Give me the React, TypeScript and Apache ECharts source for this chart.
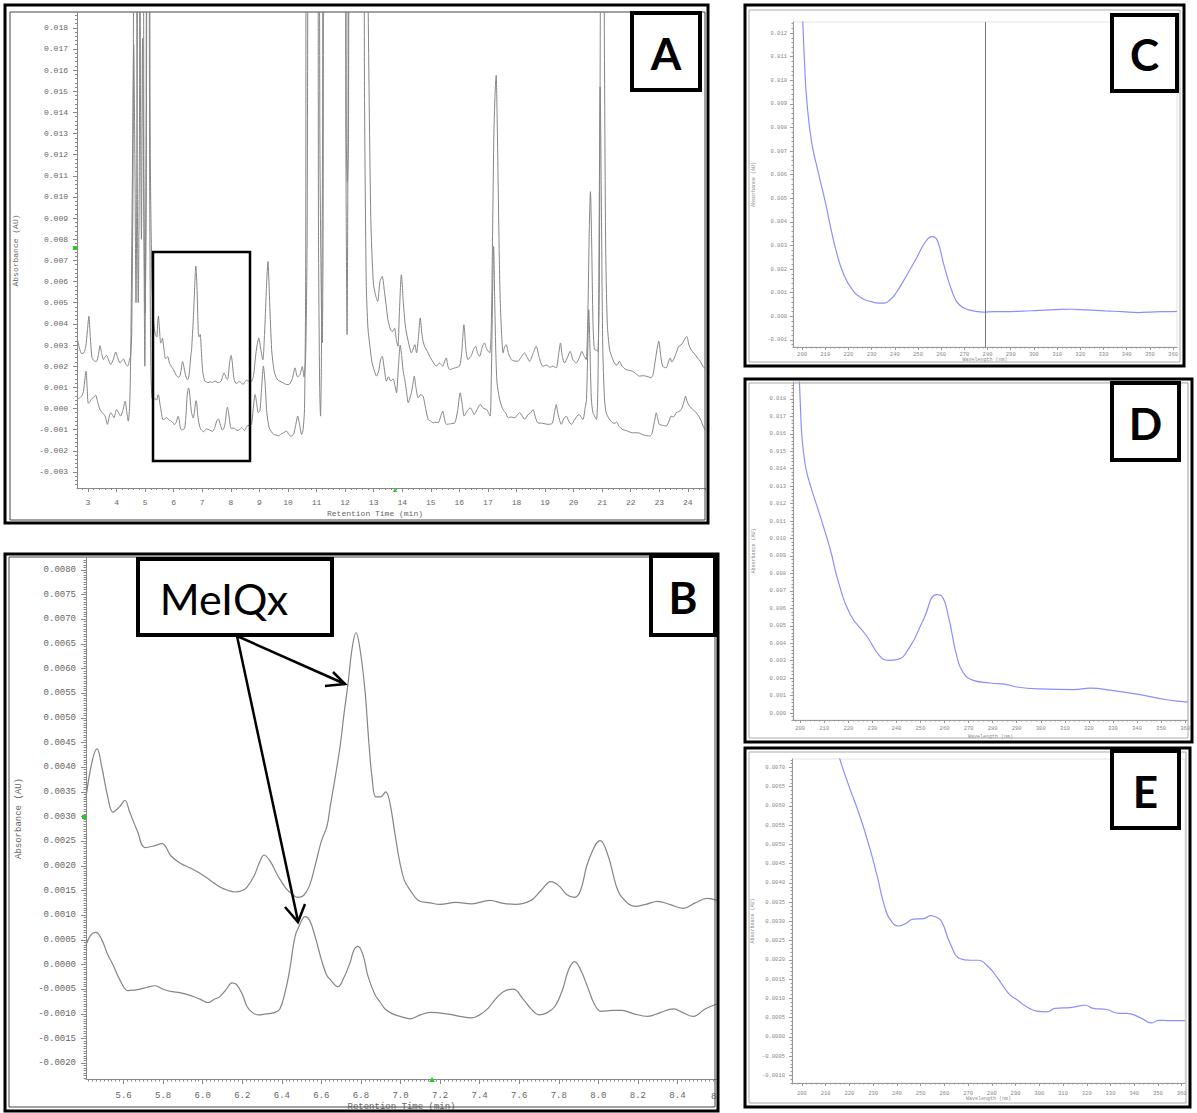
import React, { useEffect, useRef } from "react";
import * as echarts from "echarts";

type P = [number, number];

// ---------- tick labels ----------
const aXTickLabels = [3, 4, 5, 6, 7, 8, 9, 10, 11, 12, 13, 14, 15, 16, 17, 18, 19, 20, 21, 22, 23, 24];
const aYTickLabels = [-0.003, -0.002, -0.001, 0, 0.001, 0.002, 0.003, 0.004, 0.005, 0.006, 0.007, 0.008, 0.009, 0.01, 0.011, 0.012, 0.013, 0.014, 0.015, 0.016, 0.017, 0.018];
const bXTickLabels = [5.6, 5.8, 6.0, 6.2, 6.4, 6.6, 6.8, 7.0, 7.2, 7.4, 7.6, 7.8, 8.0, 8.2, 8.4];
const bYTickLabels = [-0.002, -0.0015, -0.001, -0.0005, 0, 0.0005, 0.001, 0.0015, 0.002, 0.0025, 0.003, 0.0035, 0.004, 0.0045, 0.005, 0.0055, 0.006, 0.0065, 0.007, 0.0075, 0.008];
const wlTickLabels = [200, 210, 220, 230, 240, 250, 260, 270, 280, 290, 300, 310, 320, 330, 340, 350, 360];
const cYTickLabels = [-0.001, 0, 0.001, 0.002, 0.003, 0.004, 0.005, 0.006, 0.007, 0.008, 0.009, 0.01, 0.011, 0.012];
const dYTickLabels = [0, 0.001, 0.002, 0.003, 0.004, 0.005, 0.006, 0.007, 0.008, 0.009, 0.01, 0.011, 0.012, 0.013, 0.014, 0.015, 0.016, 0.017, 0.018];
const eYTickLabels = [-0.001, -0.0005, 0, 0.0005, 0.001, 0.0015, 0.002, 0.0025, 0.003, 0.0035, 0.004, 0.0045, 0.005, 0.0055, 0.006, 0.0065, 0.007];

// ---------- Panel B (zoom 5.4 - 8.6 min) ----------
const bUpper: P[] = [
  [5.41, 0.00338], [5.44, 0.0041], [5.466, 0.00437], [5.49, 0.004], [5.52, 0.0034], [5.546, 0.00309],
  [5.58, 0.0032], [5.607, 0.00333], [5.63, 0.0031], [5.67, 0.0027], [5.708, 0.00237], [5.75, 0.0024],
  [5.794, 0.00245], [5.84, 0.0022], [5.885, 0.00206], [5.94, 0.00195], [5.986, 0.00185], [6.04, 0.0017],
  [6.087, 0.00157], [6.13, 0.0015], [6.163, 0.00147], [6.2, 0.0015], [6.224, 0.00157], [6.26, 0.0018],
  [6.29, 0.0021], [6.31, 0.00222], [6.34, 0.0021], [6.38, 0.0018], [6.42, 0.00155], [6.46, 0.0014],
  [6.48, 0.00136], [6.51, 0.0014], [6.54, 0.0016], [6.568, 0.002], [6.6, 0.0025], [6.628, 0.0028],
  [6.644, 0.00319], [6.67, 0.0038], [6.694, 0.00441], [6.715, 0.0051], [6.735, 0.00571], [6.755, 0.0064],
  [6.775, 0.00673], [6.795, 0.0064], [6.82, 0.00557], [6.84, 0.0045], [6.856, 0.0038], [6.875, 0.0034],
  [6.9, 0.0034], [6.925, 0.0035], [6.945, 0.0033], [6.97, 0.0027], [6.995, 0.0021], [7.02, 0.0017],
  [7.05, 0.0015], [7.09, 0.0013], [7.15, 0.00125], [7.2, 0.00122], [7.28, 0.00126], [7.36, 0.00123],
  [7.45, 0.0013], [7.52, 0.00124], [7.58, 0.00122], [7.66, 0.0013], [7.71, 0.0015], [7.76, 0.00168],
  [7.8, 0.0016], [7.84, 0.00142], [7.88, 0.00136], [7.91, 0.0015], [7.95, 0.0021], [8.01, 0.00251],
  [8.05, 0.0022], [8.09, 0.0016], [8.12, 0.00136], [8.185, 0.00118], [8.24, 0.00122], [8.3, 0.00128],
  [8.36, 0.00122], [8.43, 0.00114], [8.49, 0.00125], [8.55, 0.00134], [8.6, 0.0013],
];
const bLower: P[] = [
  [5.41, 0.0004], [5.435, 0.0006], [5.46, 0.00065], [5.49, 0.0005], [5.52, 0.0002], [5.546, 0.0],
  [5.58, -0.0003], [5.622, -0.00053], [5.65, -0.00052], [5.683, -0.0005], [5.72, -0.00046], [5.759, -0.00043],
  [5.8, -0.0005], [5.845, -0.00055], [5.885, -0.00057], [5.94, -0.00063], [5.986, -0.0007], [6.027, -0.00077],
  [6.06, -0.0007], [6.087, -0.00065], [6.12, -0.0005], [6.148, -0.00037], [6.17, -0.0004], [6.2, -0.0006],
  [6.224, -0.00085], [6.25, -0.00097], [6.28, -0.00102], [6.32, -0.001], [6.366, -0.00097], [6.39, -0.0009],
  [6.416, -0.00057], [6.44, -0.0001], [6.467, 0.00057], [6.49, 0.0008], [6.517, 0.00097], [6.54, 0.0009],
  [6.568, 0.00057], [6.6, 0.0001], [6.625, -0.0002], [6.644, -0.0003], [6.684, -0.00045], [6.71, -0.0003],
  [6.745, 0.00004], [6.765, 0.0003], [6.785, 0.00037], [6.81, 0.0002], [6.836, -0.00024], [6.87, -0.0006],
  [6.9, -0.00078], [6.922, -0.0009], [6.96, -0.001], [6.998, -0.00105], [7.05, -0.0011], [7.1, -0.00102],
  [7.15, -0.00097], [7.235, -0.001], [7.3, -0.00105], [7.36, -0.00108], [7.4, -0.00102], [7.44, -0.0009],
  [7.48, -0.0007], [7.52, -0.00055], [7.57, -0.0005], [7.62, -0.0007], [7.66, -0.0009], [7.7, -0.00102],
  [7.74, -0.00098], [7.78, -0.00085], [7.82, -0.0005], [7.85, -0.0001], [7.88, 0.00006], [7.91, -0.0001],
  [7.95, -0.0005], [7.98, -0.0008], [8.015, -0.00095], [8.07, -0.00093], [8.12, -0.00093], [8.18, -0.001],
  [8.25, -0.00105], [8.31, -0.00098], [8.38, -0.0009], [8.43, -0.00098], [8.48, -0.00105], [8.54, -0.0009],
  [8.6, -0.0008],
];

// ---------- Panel A (full run), outside the 5.4 - 8.6 window ----------
const aUpperBefore: P[] = [
  [2.62, 0.00333], [2.7, 0.00285], [2.78, 0.00259], [2.86, 0.00265], [2.92, 0.0029], [2.98, 0.0037],
  [3.03, 0.00436], [3.08, 0.0034], [3.14, 0.0024], [3.22, 0.00225], [3.3, 0.00223], [3.36, 0.0025],
  [3.42, 0.00297], [3.48, 0.0026], [3.54, 0.00231], [3.6, 0.00245], [3.65, 0.0025], [3.72, 0.0023],
  [3.79, 0.00208], [3.88, 0.0023], [3.97, 0.00267], [4.04, 0.0024], [4.12, 0.00215], [4.18, 0.00225],
  [4.24, 0.00234], [4.32, 0.0021], [4.39, 0.002], [4.45, 0.0023], [4.49, 0.00247], [4.53, 0.0035],
  [4.58, 0.012], [4.62, 0.03], [4.68, 0.03], [4.72, 0.012], [4.76, 0.005], [4.8, 0.012], [4.84, 0.03],
  [4.92, 0.03], [4.96, 0.01], [5.0, 0.0045], [5.04, 0.01], [5.08, 0.03], [5.14, 0.03], [5.18, 0.012],
  [5.24, 0.006], [5.3, 0.004], [5.36, 0.0035],
];
const aLowerBefore: P[] = [
  [2.62, 0.00042], [2.7, 0.0005], [2.78, 0.00058], [2.84, 0.0008], [2.9, 0.0015], [2.93, 0.00176],
  [2.97, 0.001], [3.01, 0.00024], [3.08, 0.00035], [3.16, 0.0005], [3.22, 0.00055], [3.27, 0.00063],
  [3.34, 0.0003], [3.42, -0.00005], [3.5, -0.0002], [3.6, -0.00036], [3.68, -0.00075], [3.74, -0.0004],
  [3.79, -0.0002], [3.85, -0.0003], [3.91, -0.00044], [3.96, -0.0002], [4.0, -0.00005], [4.07, -0.0002],
  [4.14, -0.00036], [4.22, -0.0001], [4.3, 0.00035], [4.36, -0.0002], [4.41, -0.0006], [4.46, 0.0002],
  [4.5, 0.003], [4.56, 0.012], [4.6, 0.0172], [4.64, 0.012], [4.68, 0.005], [4.72, 0.014], [4.76, 0.03],
  [4.8, 0.03], [4.84, 0.014], [4.87, 0.008], [4.91, 0.0175], [4.95, 0.01], [4.99, 0.002], [5.03, 0.012],
  [5.07, 0.03], [5.12, 0.03], [5.16, 0.01], [5.2, 0.002], [5.24, 0.0005], [5.3, 0.00045], [5.36, 0.00045],
];
const aUpperAfter: P[] = [
  [8.67, 0.00129], [8.73, 0.00129], [8.8, 0.0016], [8.86, 0.0024], [8.92, 0.003], [8.98, 0.00333],
  [9.05, 0.0028], [9.12, 0.0023], [9.18, 0.0035], [9.24, 0.0055], [9.3, 0.00695], [9.36, 0.005],
  [9.43, 0.00278], [9.5, 0.0019], [9.55, 0.0016], [9.64, 0.00135], [9.72, 0.00129], [9.85, 0.0012],
  [9.95, 0.00113], [10.05, 0.00115], [10.15, 0.0014], [10.25, 0.00192], [10.33, 0.0015], [10.42, 0.0016],
  [10.5, 0.00198], [10.56, 0.0015], [10.62, 0.0025], [10.67, 0.008], [10.72, 0.03], [10.8, 0.035],
  [11.05, 0.035], [11.12, 0.012], [11.17, 0.005], [11.2, 0.0031], [11.23, 0.008], [11.28, 0.035],
  [12.0, 0.035], [12.03, 0.012], [12.07, 0.0035], [12.1, 0.012], [12.14, 0.035], [12.7, 0.035],
  [12.8, 0.02], [12.9, 0.009], [12.99, 0.00593], [13.06, 0.0054], [13.14, 0.00506], [13.22, 0.006],
  [13.3, 0.00624], [13.38, 0.0055], [13.45, 0.00475], [13.5, 0.0042], [13.6, 0.0037], [13.67, 0.00365],
  [13.73, 0.0038], [13.8, 0.0032], [13.85, 0.00294], [13.9, 0.0045], [13.97, 0.00632], [14.04, 0.005],
  [14.1, 0.004], [14.15, 0.00357], [14.24, 0.003], [14.32, 0.00263], [14.38, 0.0028], [14.44, 0.00302],
  [14.5, 0.00263], [14.57, 0.0034], [14.63, 0.00428], [14.7, 0.0034], [14.78, 0.00294], [14.88, 0.0027],
  [14.96, 0.00247], [15.08, 0.0022], [15.19, 0.002], [15.3, 0.00215], [15.42, 0.002], [15.48, 0.0022],
  [15.54, 0.00239], [15.6, 0.002], [15.66, 0.00184], [15.8, 0.0019], [15.92, 0.00195], [16.01, 0.002],
  [16.08, 0.0026], [16.16, 0.00396], [16.23, 0.0028], [16.3, 0.00231], [16.42, 0.0025], [16.5, 0.0028],
  [16.57, 0.00294], [16.64, 0.0026], [16.71, 0.00247], [16.8, 0.0029], [16.88, 0.0031], [16.96, 0.0028],
  [17.06, 0.00263], [17.12, 0.004], [17.17, 0.009], [17.21, 0.013], [17.26, 0.0152], [17.29, 0.01575],
  [17.32, 0.014], [17.35, 0.0114], [17.4, 0.007], [17.43, 0.00514], [17.48, 0.0035], [17.53, 0.00263],
  [17.58, 0.0029], [17.64, 0.00302], [17.72, 0.0026], [17.82, 0.00231], [17.92, 0.00225], [18.05, 0.00223],
  [18.15, 0.0024], [18.28, 0.00263], [18.38, 0.0024], [18.46, 0.00223], [18.58, 0.0026], [18.69, 0.00294],
  [18.8, 0.0024], [18.92, 0.002], [19.05, 0.00205], [19.18, 0.00195], [19.27, 0.002], [19.39, 0.00192],
  [19.48, 0.0026], [19.54, 0.0031], [19.6, 0.0025], [19.68, 0.00215], [19.78, 0.0024], [19.88, 0.0027],
  [19.98, 0.0023], [20.09, 0.00215], [20.2, 0.0024], [20.29, 0.0027], [20.36, 0.0025], [20.44, 0.00231],
  [20.5, 0.0045], [20.55, 0.0085], [20.59, 0.01025], [20.63, 0.008], [20.68, 0.004], [20.73, 0.00278],
  [20.8, 0.00275], [20.85, 0.0027], [20.9, 0.006], [20.95, 0.025], [21.0, 0.04], [21.05, 0.025],
  [21.12, 0.008], [21.18, 0.004], [21.26, 0.00278], [21.35, 0.0024], [21.45, 0.0021], [21.52, 0.00205],
  [21.6, 0.00223], [21.7, 0.002], [21.83, 0.00184], [21.95, 0.0018], [22.06, 0.00176], [22.18, 0.00165],
  [22.3, 0.00153], [22.42, 0.00155], [22.53, 0.00153], [22.62, 0.0015], [22.71, 0.00145], [22.78, 0.0016],
  [22.83, 0.002], [22.92, 0.0028], [22.98, 0.00318], [23.05, 0.0025], [23.12, 0.002], [23.24, 0.00192],
  [23.32, 0.0022], [23.38, 0.00239], [23.44, 0.0022], [23.47, 0.00223], [23.56, 0.0025], [23.68, 0.00294],
  [23.76, 0.003], [23.82, 0.0031], [23.9, 0.0033], [23.96, 0.00341], [24.04, 0.003], [24.11, 0.00278],
  [24.22, 0.0026], [24.34, 0.00239], [24.45, 0.0022], [24.52, 0.002], [24.6, 0.0019],
];
const aLowerAfter: P[] = [
  [8.67, -0.0008], [8.73, -0.0007], [8.8, 0.0002], [8.85, 0.00066], [8.9, 0.0003], [8.96, -0.0002],
  [9.02, -0.0001], [9.08, 0.001], [9.14, 0.002], [9.2, 0.0012], [9.26, -0.0002], [9.34, -0.0009],
  [9.42, -0.0011], [9.5, -0.00123], [9.58, -0.00125], [9.67, -0.0013], [9.76, -0.0012], [9.84, -0.00115],
  [9.9, -0.0011], [9.95, -0.00107], [10.02, -0.0012], [10.08, -0.0013], [10.13, -0.0013], [10.2, -0.0012],
  [10.27, -0.0008], [10.34, -0.00036], [10.4, -0.0007], [10.48, -0.00123], [10.53, -0.001], [10.58, 0.0],
  [10.62, 0.006], [10.66, 0.035], [11.02, 0.035], [11.07, 0.008], [11.11, 0.001], [11.14, -0.00036],
  [11.17, 0.002], [11.21, 0.012], [11.25, 0.035], [12.01, 0.035], [12.04, 0.013], [12.08, 0.0107],
  [12.12, 0.013], [12.16, 0.035], [12.62, 0.035], [12.68, 0.015], [12.74, 0.006], [12.8, 0.0038],
  [12.87, 0.00294], [12.94, 0.0022], [13.02, 0.0018], [13.1, 0.00153], [13.18, 0.0018], [13.24, 0.0023],
  [13.3, 0.00247], [13.36, 0.002], [13.45, 0.00129], [13.52, 0.0015], [13.6, 0.0013], [13.68, 0.0014],
  [13.75, 0.00105], [13.8, 0.00074], [13.86, 0.0018], [13.93, 0.003], [13.98, 0.0025], [14.03, 0.0018],
  [14.09, 0.00137], [14.15, 0.0008], [14.21, 0.00027], [14.27, 0.0005], [14.32, 0.00074], [14.37, 0.0011],
  [14.42, 0.00153], [14.48, 0.001], [14.56, 0.0005], [14.64, 0.00065], [14.73, 0.00058], [14.82, 0.0],
  [14.91, -0.00052], [15.0, -0.0006], [15.09, -0.00068], [15.18, -0.00065], [15.26, -0.00068], [15.34, -0.0004],
  [15.42, -0.00013], [15.48, -0.0005], [15.55, -0.00075], [15.7, -0.00072], [15.84, -0.00068], [15.94, -0.0001],
  [16.03, 0.00074], [16.1, 0.0002], [16.17, -0.00036], [16.26, -0.00015], [16.38, 0.00003], [16.45, -0.0001],
  [16.52, -0.00028], [16.62, -0.00005], [16.73, 0.00019], [16.85, 0.0], [16.96, -0.00005], [17.02, -0.0002],
  [17.08, -0.00036], [17.12, 0.0015], [17.16, 0.005], [17.2, 0.00766], [17.24, 0.005], [17.28, 0.0025],
  [17.32, 0.00121], [17.4, 0.0005], [17.48, 0.00011], [17.55, -0.0001], [17.62, -0.0002], [17.71, -0.00044],
  [17.82, -0.0004], [17.94, -0.00044], [18.03, -0.0003], [18.11, -0.0002], [18.2, -0.00035], [18.29, -0.00052],
  [18.4, -0.0003], [18.5, -0.0002], [18.58, -0.00005], [18.66, -0.0004], [18.75, -0.00068], [18.92, -0.0007],
  [19.1, -0.00075], [19.25, -0.0007], [19.33, -0.0002], [19.39, 0.00019], [19.46, -0.0003], [19.57, -0.00075],
  [19.65, -0.0005], [19.74, -0.00036], [19.83, -0.0006], [19.92, -0.00075], [20.05, -0.0005], [20.19, -0.00028],
  [20.26, -0.0004], [20.33, -0.00052], [20.4, 0.0], [20.45, 0.00042], [20.5, 0.003], [20.53, 0.00467],
  [20.57, 0.003], [20.62, 0.0005], [20.68, -0.0002], [20.8, -0.00052], [20.86, 0.002], [20.9, 0.01],
  [20.93, 0.0152], [20.97, 0.01], [21.02, 0.003], [21.08, 0.0005], [21.14, -0.0002], [21.25, -0.0005],
  [21.37, -0.00068], [21.45, -0.0007], [21.5, -0.00064], [21.6, -0.00085], [21.72, -0.001], [21.85, -0.00105],
  [22.06, -0.00115], [22.25, -0.00115], [22.45, -0.00125], [22.66, -0.0013], [22.74, -0.0012], [22.8, -0.00083],
  [22.86, -0.0004], [22.89, -0.0002], [22.95, -0.0005], [23.0, -0.00075], [23.12, -0.0008], [23.24, -0.00083],
  [23.34, -0.0006], [23.41, -0.00036], [23.5, -0.0004], [23.59, -0.0002], [23.68, -0.00015], [23.77, -0.00005],
  [23.86, 0.0003], [23.92, 0.00058], [23.98, 0.0003], [24.06, 0.00011], [24.18, -0.00005], [24.29, -0.0002],
  [24.4, -0.0004], [24.47, -0.0006], [24.54, -0.00085], [24.6, -0.001],
];

// ---------- UV spectra (wavelength nm, AU) ----------
const cSpectrum: P[] = [
  [200.0, 0.0131], [200.3, 0.0125], [201.2, 0.0105], [202, 0.0092], [204.1, 0.0074], [207, 0.0061], [209.9, 0.0049],
  [212.7, 0.0036], [214.9, 0.0027], [217.7, 0.00185], [221.3, 0.00118], [225.6, 0.00078], [229.9, 0.00062],
  [233, 0.00056], [235.5, 0.00056], [238, 0.0007], [240.6, 0.001], [244.9, 0.0017], [249.1, 0.00242],
  [253.4, 0.00318], [256.3, 0.00338], [258.4, 0.0032], [261.3, 0.00213], [264.9, 0.001], [267.7, 0.0005],
  [272, 0.00027], [277.7, 0.00018], [283, 0.0002], [287.7, 0.0002], [295, 0.00022], [302, 0.00025],
  [309, 0.00028], [316.3, 0.0003], [323, 0.00027], [330.6, 0.00023], [338, 0.0002], [344.9, 0.00016],
  [352, 0.00019], [359, 0.0002], [361.7, 0.00021],
];
const cMarkerWavelength = 279;
const dSpectrum: P[] = [
  [199.5, 0.0195], [200.2, 0.0172], [200.7, 0.01587], [202, 0.0143], [203.5, 0.01338], [208.3, 0.01128],
  [212.5, 0.00937], [215.9, 0.0075], [220.8, 0.00565], [227.7, 0.0044], [233.2, 0.00325], [236.7, 0.00302],
  [240.2, 0.00306], [245.7, 0.00382], [251.2, 0.00535], [256.8, 0.00679], [258.9, 0.00669], [261.6, 0.00554],
  [265.1, 0.00325], [267.9, 0.00229], [272, 0.00187], [279, 0.00172], [285.9, 0.00163], [290, 0.00149],
  [299.7, 0.00138], [313.6, 0.00134], [320.5, 0.00143], [330.2, 0.00128], [341.3, 0.00105], [352.4, 0.00076],
  [361.2, 0.00063],
];
const eSpectrum: P[] = [
  [215.0, 0.0074], [218.9, 0.00667], [224.6, 0.0057], [228.8, 0.00485], [231.6, 0.0042], [235.1, 0.00333],
  [237.9, 0.00299], [240.7, 0.00288], [243.5, 0.00294], [247, 0.00306], [251.2, 0.00307], [254.3, 0.00315],
  [256.8, 0.0031], [258.9, 0.00299], [262.5, 0.00242], [266.7, 0.00203], [270.9, 0.00199], [274.4, 0.00199],
  [277.9, 0.00186], [282.1, 0.00156], [287, 0.00113], [290.5, 0.00097], [294.7, 0.00078], [298.9, 0.00067],
  [303.2, 0.00065], [306.7, 0.00074], [313, 0.00076], [319.3, 0.00082], [322.8, 0.00074], [328.4, 0.00071],
  [333.3, 0.00061], [336.8, 0.00061], [342.5, 0.0005], [347.4, 0.00036], [350.2, 0.00043], [355.1, 0.00042],
  [361.4, 0.00042],
];

const aUpper: P[] = [...aUpperBefore, ...bUpper, ...aUpperAfter];
const aLower: P[] = [...aLowerBefore, ...bLower, ...aLowerAfter];

const MONO = "'Liberation Mono', 'DejaVu Sans Mono', monospace";
const TRACE = "#858585";
const SPEC = "#8e8eff";

function minorTicks(min: number, max: number, step: number): number[] {
  const out: number[] = [];
  for (let i = Math.ceil(min / step - 1e-9); i * step <= max + 1e-12; i++) out.push(+(i * step).toFixed(7));
  return out;
}

function panelAxes(g: number, c: any) {
  const xt = c.xTicks.filter((v: number) => v >= c.xMin && v <= c.xMax);
  const yt = c.yTicks.filter((v: number) => v >= c.yMin && v <= c.yMax);
  const xAxes = [
    {
      type: "value", gridIndex: g, min: c.xMin, max: c.xMax, position: "bottom",
      axisLine: { show: true, onZero: false, lineStyle: { color: c.axisColor, width: 1 } },
      axisTick: { show: true, customValues: xt, length: c.majorLen, lineStyle: { color: c.axisColor } },
      axisLabel: { show: true, customValues: xt, formatter: c.xFmt, margin: c.xMargin, fontFamily: MONO, fontSize: c.fs, color: c.labelColor },
      splitLine: { show: false },
      name: c.xName, nameLocation: "middle", nameGap: c.xNameGap, nameMoveOverlap: false,
      nameTextStyle: { fontFamily: MONO, fontSize: c.nameFs, color: c.labelColor, padding: c.xNamePad || 0 },
    },
    {
      type: "value", gridIndex: g, min: c.xMin, max: c.xMax, position: "bottom",
      axisLine: { show: false, onZero: false },
      axisTick: { show: true, customValues: minorTicks(c.xMin, c.xMax, c.xMinor), length: c.minorLen, lineStyle: { color: c.axisColor } },
      axisLabel: { show: false }, splitLine: { show: false },
    },
  ];
  const yAxes = [
    {
      type: "value", gridIndex: g, min: c.yMin, max: c.yMax, position: "left",
      axisLine: { show: true, onZero: false, lineStyle: { color: c.axisColor, width: 1 } },
      axisTick: { show: true, customValues: yt, length: c.majorLen, lineStyle: { color: c.axisColor } },
      axisLabel: { show: true, customValues: yt, formatter: c.yFmt, margin: c.yMargin, fontFamily: MONO, fontSize: c.fs, color: c.labelColor },
      splitLine: { show: false },
      name: "Absorbance (AU)", nameLocation: "middle", nameRotate: 90, nameGap: c.yNameGap, nameMoveOverlap: false,
      nameTextStyle: { fontFamily: MONO, fontSize: c.nameFs, color: c.labelColor },
    },
    {
      type: "value", gridIndex: g, min: c.yMin, max: c.yMax, position: "left",
      axisLine: { show: false, onZero: false },
      axisTick: { show: true, customValues: minorTicks(c.yMin, c.yMax, c.yMinor), length: c.minorLen, lineStyle: { color: c.axisColor } },
      axisLabel: { show: false }, splitLine: { show: false },
    },
  ];
  return { xAxes, yAxes };
}

function lineSeries(g: number, data: P[], color: string, width: number, smooth: number, extra: any = {}) {
  return {
    type: "line", xAxisIndex: 2 * g, yAxisIndex: 2 * g, data, showSymbol: false, symbol: "none",
    smooth, clip: true, silent: true,
    lineStyle: { color, width }, ...extra,
  };
}

function frame(x: number, y: number, w: number, h: number, lw: number, stroke = "#000", fill = "none", z = 50) {
  return { type: "rect", z, silent: true, shape: { x, y, width: w, height: h }, style: { fill, stroke, lineWidth: lw } };
}
function letterBox(x: number, y: number, w: number, h: number, letter: string) {
  return [
    frame(x, y, w, h, 4, "#000", "#fff", 60),
    {
      type: "text", z: 61, silent: true, x: x + w / 2, y: y + h / 2 + 1,
      style: { text: letter, fill: "#000", fontFamily: "Lato", fontWeight: "bold", fontSize: 44, align: "center", verticalAlign: "middle" },
    },
  ];
}
function seg(x1: number, y1: number, x2: number, y2: number, lw = 2.5) {
  return { type: "line", z: 62, silent: true, shape: { x1, y1, x2, y2 }, style: { stroke: "#000", lineWidth: lw } };
}
function chevron(pts: number[][]) {
  return { type: "polyline", z: 62, silent: true, shape: { points: pts }, style: { stroke: "#000", lineWidth: 2.5, fill: "none" } };
}

function buildOption() {
  const A = panelAxes(0, {
    xMin: 2.615, xMax: 24.6, xTicks: aXTickLabels, xMinor: 0.2, xFmt: (v: number) => String(Math.round(v)),
    yMin: -0.00376, yMax: 0.0187, yTicks: aYTickLabels, yMinor: 0.0002, yFmt: (v: number) => v.toFixed(3),
    axisColor: "#888", labelColor: "#666", fs: 8, nameFs: 8, majorLen: 4, minorLen: 2,
    xMargin: 10, yMargin: 9, xName: "Retention Time (min)", xNameGap: 21, xNamePad: [0, 32, 0, 0], yNameGap: 58,
  });
  const B = panelAxes(1, {
    xMin: 5.41, xMax: 8.6, xTicks: bXTickLabels, xMinor: 0.02, xFmt: (v: number) => v.toFixed(1),
    yMin: -0.00232, yMax: 0.00824, yTicks: bYTickLabels, yMinor: 0.00005, yFmt: (v: number) => v.toFixed(4),
    axisColor: "#888", labelColor: "#666", fs: 9, nameFs: 9, majorLen: 5, minorLen: 2.5,
    xMargin: 12, yMargin: 10, xName: "Retention Time (min)", xNameGap: 23, yNameGap: 63,
  });
  const specCommon = {
    xTicks: wlTickLabels, xMinor: 2, xFmt: (v: number) => String(Math.round(v)),
    axisColor: "#999", labelColor: "#888", fs: 5.5, nameFs: 5, majorLen: 3, minorLen: 1.5,
    xName: "Wavelength (nm)", yNameGap: 37,
  };
  const C = panelAxes(2, {
    ...specCommon, xMin: 196.1, xMax: 361.7, yMin: -0.0013, yMax: 0.01247, yTicks: cYTickLabels, yMinor: 0.0002,
    yFmt: (v: number) => v.toFixed(3), xMargin: 4, yMargin: 6, xNameGap: 10,
  });
  const D = panelAxes(3, {
    ...specCommon, xMin: 197, xMax: 361.2, yMin: -0.0004, yMax: 0.01897, yTicks: dYTickLabels, yMinor: 0.0002,
    yFmt: (v: number) => v.toFixed(3), xMargin: 5, yMargin: 7, xNameGap: 14,
  });
  const E = panelAxes(4, {
    ...specCommon, xMin: 195.8, xMax: 361.4, yMin: -0.0012, yMax: 0.00722, yTicks: eYTickLabels, yMinor: 0.0001,
    yFmt: (v: number) => v.toFixed(4), xMargin: 7, yMargin: 7, xNameGap: 13,
  });

  const grids = [
    { left: 77, top: 13, width: 628, height: 475 },
    { left: 86, top: 558, width: 631, height: 521 },
    { left: 793, top: 22, width: 384, height: 325 },
    { left: 793, top: 382, width: 395, height: 338 },
    { left: 792, top: 759, width: 393, height: 324 },
  ].map((g, i) => ({
    ...g, containLabel: false, outerBoundsMode: "none",
    show: i >= 2, borderColor: "#e4e4e4", borderWidth: 1, backgroundColor: "transparent",
  }));

  const graphic: any[] = [
    // panel frames
    frame(5, 5, 703, 518, 3), frame(10, 12, 695, 508, 1, "#444"),
    frame(5, 554, 713, 557, 3), frame(9, 557, 706, 550, 1, "#444"),
    frame(745, 5, 439, 361, 3), frame(749, 10, 431, 352, 1, "#aaa"),
    frame(745, 379, 447, 363, 3), frame(749, 383, 439, 355, 1, "#aaa"),
    frame(745, 748, 445, 359, 3), frame(749, 752, 437, 351, 1, "#aaa"),
    // zoom window drawn on A
    frame(153, 252, 97, 209, 2.5),
    ...letterBox(632, 13, 68, 77, "A"),
    ...letterBox(651, 556, 64, 79, "B"),
    ...letterBox(1112, 15, 65, 76, "C"),
    ...letterBox(1112, 383, 67, 77, "D"),
    ...letterBox(1112, 751, 67, 77, "E"),
    // MeIQx callout
    frame(138, 559, 194, 76, 4, "#000", "#fff", 60),
    {
      type: "text", z: 61, silent: true, x: 224, y: 598,
      style: { text: "MeIQx", fill: "#000", fontFamily: "Lato", fontSize: 43, align: "center", verticalAlign: "middle" },
    },
    seg(237, 636, 345, 684), chevron([[325, 686], [345, 684], [333, 672]]),
    seg(237, 636, 298, 921), chevron([[285, 907], [298, 922], [305, 904]]),
    // partially cut last tick label of B
    {
      type: "text", z: 40, silent: true, x: 711, y: 1097,
      style: { text: "8", fill: "#666", fontFamily: MONO, fontSize: 9, align: "left", verticalAlign: "middle" },
    },
    // green cursor markers
    { type: "rect", z: 45, silent: true, shape: { x: 73, y: 246, width: 4, height: 4 }, style: { fill: "#22cc22" } },
    { type: "polygon", z: 45, silent: true, shape: { points: [[393, 492], [397, 492], [395, 488]] }, style: { fill: "#22cc22" } },
    { type: "rect", z: 45, silent: true, shape: { x: 82, y: 815, width: 4, height: 4 }, style: { fill: "#22cc22" } },
    { type: "polygon", z: 45, silent: true, shape: { points: [[429, 1082], [435, 1082], [432, 1077]] }, style: { fill: "#22cc22" } },
  ];

  return {
    animation: false,
    backgroundColor: "#fff",
    grid: grids,
    xAxis: [...A.xAxes, ...B.xAxes, ...C.xAxes, ...D.xAxes, ...E.xAxes],
    yAxis: [...A.yAxes, ...B.yAxes, ...C.yAxes, ...D.yAxes, ...E.yAxes],
    series: [
      lineSeries(0, aUpper, TRACE, 1, 0.25),
      lineSeries(0, aLower, TRACE, 1, 0.25),
      lineSeries(1, bUpper, TRACE, 1.2, 0.4),
      lineSeries(1, bLower, TRACE, 1.2, 0.4),
      lineSeries(2, cSpectrum, SPEC, 1.2, 0.5, {
        markLine: {
          silent: true, symbol: "none", label: { show: false },
          lineStyle: { color: "#777", type: "solid", width: 1 },
          data: [{ xAxis: cMarkerWavelength }],
        },
      }),
      lineSeries(3, dSpectrum, SPEC, 1.2, 0.5),
      lineSeries(4, eSpectrum, SPEC, 1.2, 0.5),
    ],
    graphic,
  };
}

export default function App() {
  const ref = useRef<HTMLDivElement>(null);
  useEffect(() => {
    if (!ref.current) return;
    const chart = echarts.init(ref.current, null, { renderer: "svg" });
    chart.setOption(buildOption() as any);
    return () => chart.dispose();
  }, []);
  return (
    <div
      ref={ref}
      style={{ position: "absolute", left: 0, top: 0, width: 1197, height: 1113, background: "#fff" }}
    />
  );
}
